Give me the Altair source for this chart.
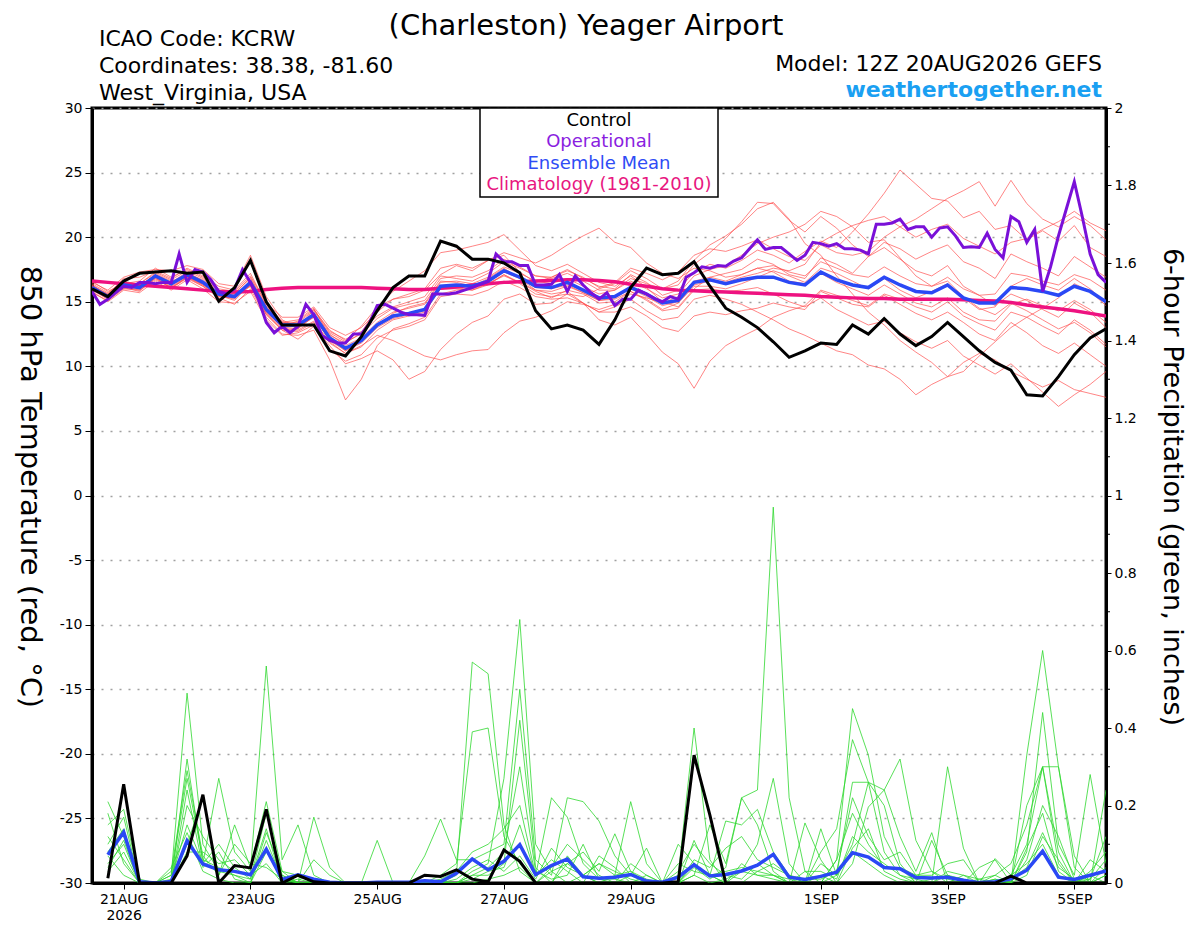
import altair as alt
import pandas as pd

# ---------------- data ----------------
HOURS6 = list(range(0, 385, 6))      # 12Z 20AUG2026 .. 12Z 05SEP2026, 6-hourly
HOURS3 = list(range(0, 385, 3))      # operational run, 3-hourly
PHOURS = HOURS6[1:]                  # 6-hour precipitation periods

TICK_HOURS = [12, 60, 108, 156, 204, 276, 324, 372]
TICK_LABELS = ["21AUG", "23AUG", "25AUG", "27AUG", "29AUG", "1SEP", "3SEP", "5SEP"]
FIRST_YEAR = "2026"
TEMP_TICKS = [-30, -25, -20, -15, -10, -5, 0, 5, 10, 15, 20, 25, 30]
PRECIP_TICKS = [0, 0.2, 0.4, 0.6, 0.8, 1, 1.2, 1.4, 1.6, 1.8, 2]
PRECIP_MINOR = [0.1, 0.3, 0.5, 0.7, 0.9, 1.1, 1.3, 1.5, 1.7, 1.9]

CONTROL_T = [16.0, 15.4, 16.6, 17.2, 17.3, 17.4, 17.2, 17.3, 15.05, 16.1,
             18.2, 15.0, 13.2, 13.2, 13.2, 11.2, 10.8, 12.3, 14.3, 16.1,
             17.0, 17.0, 19.7, 19.3, 18.3, 18.3, 18.0, 17.25, 14.3, 12.9,
             13.2, 12.8, 11.7, 13.6, 16.1, 17.6, 17.1, 17.2, 18.1, 16.2,
             14.5, 13.8, 13.0, 11.9, 10.7, 11.2, 11.8, 11.7, 13.2, 12.5,
             13.7, 12.5, 11.6, 12.3, 13.4, 12.3, 11.2, 10.3, 9.7, 7.8,
             7.7, 9.2, 10.9, 12.2, 12.9]

MEAN_T = [16.1, 15.4, 16.3, 16.1, 17.0, 16.4, 17.1, 16.5, 15.6, 15.4,
          16.5, 14.4, 13.2, 13.2, 14.0, 12.2, 11.4, 12.0, 13.2, 13.9,
          14.1, 14.4, 16.2, 16.3, 16.2, 16.6, 17.4, 16.9, 16.2, 16.1,
          16.5, 15.9, 15.3, 15.4, 16.1, 15.6, 14.9, 15.1, 16.5, 16.7,
          16.4, 16.7, 16.9, 16.9, 16.5, 16.3, 17.3, 16.7, 16.3, 16.1,
          16.9, 16.3, 15.8, 15.7, 16.3, 15.3, 14.9, 14.9, 16.1, 16.0,
          15.8, 15.5, 16.2, 15.8, 15.0]

OPER_T = [15.8, 14.8, 15.2, 15.7, 16.2, 16.1, 16.5, 16.5, 16.4, 16.5,
          16.5, 18.7, 16.5, 17.5, 17.3, 16.7, 15.8, 15.6, 16.0, 17.5,
          16.5, 15.2, 13.4, 12.6, 13.1, 12.6, 13.1, 14.8, 14.0, 12.4,
          12.0, 11.8, 11.8, 12.5, 12.5, 13.3, 14.7, 14.8, 14.5, 14.2,
          14.0, 14.0, 13.95, 15.6, 15.6, 15.6, 15.7, 15.9, 16.1, 16.35,
          16.6, 18.7, 18.1, 18.1, 17.8, 17.8, 16.3, 16.3, 16.35, 17.1,
          15.8, 17.0, 16.3, 15.7, 15.2, 15.7, 14.7, 15.2, 15.2, 15.9,
          15.6, 15.25, 15.0, 15.4, 15.2, 16.9, 17.25, 17.7, 17.6, 17.8,
          17.75, 18.15, 18.4, 19.1, 19.8, 19.05, 19.2, 19.2, 18.7, 18.2,
          18.6, 19.6, 19.5, 19.3, 19.5, 19.1, 19.1, 19.0, 18.7, 21.0,
          21.0, 21.1, 21.4, 20.6, 20.8, 20.8, 20.0, 20.7, 20.8, 20.1,
          19.2, 19.25, 19.2, 20.3, 19.05, 18.4, 21.6, 21.2, 19.6, 20.6,
          15.8, 17.7, 20.1, 22.2, 24.3, 21.6, 18.7, 17.1, 16.5]

CLIM_T = [16.6, 16.5, 16.4, 16.3, 16.2, 16.1, 16.0, 15.9, 15.8, 15.75,
          15.8, 15.95, 16.05, 16.1, 16.1, 16.1, 16.1, 16.1, 16.05, 16.0,
          15.95, 15.95, 16.05, 16.15, 16.3, 16.4, 16.5, 16.55, 16.6, 16.65,
          16.7, 16.7, 16.65, 16.55, 16.35, 16.2, 16.0, 15.9, 15.85, 15.8,
          15.75, 15.7, 15.65, 15.6, 15.55, 15.5, 15.4, 15.35, 15.3, 15.25,
          15.25, 15.2, 15.2, 15.2, 15.2, 15.15, 15.1, 15.05, 14.95, 14.75,
          14.6, 14.45, 14.3, 14.1, 13.9]

MEMBERS_T = [
    [16.3, 15.6, 16.8, 16.9, 17.4, 16.8, 17.6, 17.0, 16.2, 15.9,
     17.2, 14.8, 13.5, 12.9, 14.4, 12.8, 12.0, 13.1, 14.6, 15.2,
     15.4, 15.9, 17.1, 17.8, 17.4, 18.2, 18.6, 17.3, 16.5, 16.9,
     17.5, 16.8, 16.2, 16.0, 17.1, 16.5, 15.5, 15.9, 17.3, 17.9,
     17.6, 18.2, 19.0, 18.6, 18.0, 18.9, 19.7, 19.2, 20.4, 21.8,
     23.4, 25.2, 24.1, 23.0, 22.8, 21.5, 22.0, 20.6, 20.9, 19.8,
     20.5, 19.7, 20.9, 19.2, 18.5],
    [15.8, 15.0, 15.9, 15.7, 16.6, 15.9, 16.7, 16.0, 15.0, 14.9,
     15.8, 13.6, 12.4, 12.6, 13.2, 11.3, 10.4, 10.9, 12.2, 12.8,
     13.1, 13.6, 15.4, 15.6, 15.5, 15.9, 16.6, 16.1, 15.4, 15.2,
     15.3, 14.9, 14.2, 14.6, 15.2, 14.3, 13.6, 13.8, 15.2, 15.5,
     15.2, 14.8, 14.2, 13.6, 12.9, 12.4, 11.8, 11.2, 10.9, 10.1,
     9.8, 9.0, 7.8, 8.6, 9.2, 10.3, 11.0, 10.5, 9.6, 9.0,
     8.4, 8.9, 8.2, 7.9, 7.6],
    [16.5, 15.9, 16.9, 17.3, 17.5, 17.4, 17.8, 17.5, 16.4, 16.2,
     18.6, 15.4, 13.6, 13.0, 13.8, 12.4, 11.8, 12.6, 14.6, 15.8,
     16.6, 17.4, 18.8, 19.0, 19.3, 19.6, 20.2, 19.0, 17.8, 17.4,
     17.9, 17.2, 16.5, 16.2, 17.0, 16.1, 15.0, 14.6, 16.0, 16.9,
     17.2, 17.5, 18.3, 17.9, 17.1, 16.8, 18.4, 17.9, 17.2, 18.5,
     19.6, 19.1, 18.3, 18.9, 19.4, 18.1, 17.6, 16.8, 18.7, 18.1,
     17.6, 17.0, 18.5, 17.7, 16.9],
    [15.9, 15.2, 16.1, 15.8, 16.9, 16.0, 16.9, 16.2, 15.3, 14.8,
     16.0, 13.8, 12.5, 12.4, 12.8, 10.5, 7.4, 9.0, 11.6, 12.9,
     13.3, 13.8, 15.6, 15.9, 16.0, 16.4, 17.0, 16.5, 15.8, 15.3,
     15.9, 15.6, 14.9, 15.0, 15.8, 15.2, 14.4, 14.9, 16.2, 16.2,
     16.0, 16.4, 16.9, 17.4, 17.0, 16.5, 17.6, 17.2, 16.6, 16.0,
     16.8, 15.9, 15.3, 15.8, 16.4, 15.3, 14.4, 14.6, 16.2, 16.8,
     16.3, 15.9, 16.8, 16.0, 14.9],
    [16.2, 15.5, 16.0, 16.4, 17.2, 16.6, 17.0, 16.4, 15.6, 15.6,
     16.2, 14.0, 12.8, 12.1, 13.1, 11.6, 10.2, 10.6, 11.2, 10.5,
     9.0, 9.6, 11.3, 12.5, 13.4, 13.9, 15.2, 15.6, 14.8, 14.9,
     15.6, 15.4, 16.0, 16.4, 17.4, 16.8, 16.0, 16.3, 17.9, 18.8,
     19.9, 21.2, 22.7, 22.6, 21.3, 20.4, 21.6, 20.7, 19.4, 18.5,
     19.2, 18.3, 17.4, 17.0, 17.8, 16.2, 15.5, 14.7, 15.6, 15.1,
     14.4, 13.8, 14.9, 14.2, 13.0],
    [16.0, 15.3, 16.5, 16.2, 17.1, 16.5, 17.3, 16.6, 15.5, 15.2,
     16.7, 14.6, 13.4, 13.6, 14.5, 12.3, 11.2, 11.9, 13.1, 14.1,
     14.6, 14.9, 16.6, 16.5, 16.2, 16.8, 17.6, 16.8, 15.9, 15.6,
     15.8, 14.9, 13.6, 13.2, 13.8, 12.5, 11.1, 10.2, 8.3, 10.4,
     11.6, 12.3, 12.9, 13.8, 14.3, 14.7, 15.9, 15.5, 15.1, 14.7,
     15.6, 15.2, 14.6, 14.2, 15.0, 13.9, 13.3, 12.8, 14.2, 13.8,
     13.1, 12.5, 13.6, 12.8, 11.7],
    [16.4, 15.7, 16.6, 16.3, 17.0, 16.3, 17.0, 16.3, 15.5, 15.1,
     16.4, 14.2, 13.1, 13.5, 14.4, 12.7, 12.1, 12.7, 13.9, 14.6,
     15.0, 15.4, 17.0, 16.8, 16.6, 17.2, 18.1, 17.6, 17.0, 16.9,
     17.4, 16.9, 16.1, 16.5, 17.6, 17.2, 16.7, 17.3, 18.6, 19.1,
     18.9, 19.3, 19.8, 19.1, 18.5, 18.2, 19.4, 18.8, 18.6, 18.9,
     20.0, 20.8, 21.4, 22.2, 23.0, 23.6, 24.3, 22.4, 24.4, 22.6,
     21.4, 20.8, 21.6, 20.9, 19.8],
    [15.7, 15.1, 16.0, 15.9, 16.7, 16.1, 16.8, 16.2, 15.4, 15.3,
     16.2, 14.0, 12.8, 12.7, 13.4, 11.8, 11.0, 11.5, 12.8, 13.6,
     13.9, 14.2, 16.0, 16.1, 15.9, 16.3, 17.1, 16.5, 15.9, 15.8,
     16.2, 15.7, 15.1, 15.2, 15.8, 15.1, 14.3, 14.5, 15.9, 16.0,
     15.8, 15.9, 16.1, 15.6, 15.0, 14.6, 15.3, 14.4, 13.8, 13.2,
     13.5, 12.6, 11.9, 11.4, 12.0, 10.8, 10.1, 9.4, 10.2, 9.1,
     8.0, 6.9, 7.8, 8.6, 9.6],
    [16.6, 15.8, 16.4, 16.6, 17.6, 16.9, 17.5, 16.9, 16.0, 15.8,
     17.0, 14.9, 13.8, 13.8, 14.6, 13.0, 12.4, 13.0, 14.2, 15.2,
     15.6, 16.0, 17.6, 17.9, 17.6, 18.2, 18.8, 18.4, 18.0, 18.6,
     19.4, 20.1, 20.7, 19.6, 19.2, 18.0, 17.2, 16.8, 17.6, 17.4,
     16.9, 17.1, 17.6, 17.3, 16.6, 16.4, 17.2, 16.5, 16.0, 15.5,
     16.3, 15.6, 14.9, 14.6, 15.3, 14.2, 13.6, 13.5, 14.8, 15.2,
     14.7, 14.3, 15.1, 14.4, 13.4],
    [15.9, 15.4, 16.2, 16.0, 16.8, 16.2, 16.9, 16.4, 15.7, 15.5,
     16.3, 14.1, 12.9, 12.8, 13.5, 11.9, 11.0, 11.6, 12.4, 12.0,
     11.4, 10.8, 10.5, 10.9, 11.2, 11.3, 12.6, 13.5, 13.8, 14.3,
     15.0, 14.8, 14.4, 14.8, 15.6, 15.3, 14.9, 15.4, 16.6, 16.9,
     16.6, 17.1, 17.6, 17.8, 17.3, 17.0, 18.1, 17.6, 17.1, 16.9,
     17.7, 17.0, 16.4, 16.2, 16.9, 16.0, 15.5, 15.6, 17.2, 17.0,
     16.6, 16.3, 17.1, 16.7, 15.9],
    [16.2, 15.6, 16.4, 16.2, 17.1, 16.5, 17.2, 16.7, 15.8, 15.7,
     16.8, 14.6, 13.3, 13.2, 14.1, 12.5, 11.6, 12.2, 13.4, 14.2,
     14.5, 14.8, 16.5, 16.6, 16.4, 16.9, 17.7, 17.2, 16.6, 16.4,
     16.8, 16.2, 15.6, 15.9, 16.8, 16.4, 16.0, 16.6, 18.2, 19.4,
     20.1, 21.0, 22.2, 22.7, 21.4, 19.5, 18.6, 17.0, 15.6, 14.2,
     13.2, 12.0, 11.1, 10.3, 9.2, 9.6, 10.8, 11.9, 13.0, 13.8,
     14.5, 15.3, 16.4, 15.8, 14.7],
    [16.1, 15.3, 16.2, 15.9, 16.8, 16.1, 16.9, 16.3, 15.4, 15.3,
     16.3, 14.2, 13.0, 13.1, 13.8, 12.0, 11.2, 11.8, 13.0, 13.7,
     14.0, 14.3, 16.2, 16.3, 16.1, 16.5, 17.3, 16.8, 16.1, 16.0,
     16.3, 15.7, 15.1, 15.3, 16.0, 15.4, 14.7, 15.0, 16.3, 16.6,
     16.5, 16.9, 17.2, 17.6, 17.4, 17.9, 19.6, 20.3, 20.9, 21.3,
     21.6, 20.8, 20.0, 20.6, 21.0, 19.9, 19.3, 18.7, 19.6, 19.9,
     20.6, 21.2, 22.0, 21.1, 20.5],
    [16.0, 15.2, 16.3, 16.0, 16.9, 16.3, 17.0, 16.4, 15.6, 15.4,
     16.5, 14.3, 13.0, 12.9, 13.9, 12.0, 11.3, 11.9, 13.2, 13.8,
     14.1, 14.4, 16.0, 16.0, 15.9, 16.4, 17.1, 16.4, 15.6, 15.4,
     15.6, 14.9, 14.2, 14.2, 14.6, 13.9, 13.0, 12.7, 13.9, 14.2,
     14.0, 14.3, 14.5, 14.9, 14.6, 14.4, 15.8, 15.3, 14.8, 14.6,
     15.5, 14.8, 14.1, 13.6, 14.2, 13.4, 12.5, 12.0, 13.4, 12.6,
     11.6, 11.0, 11.8, 10.9, 10.0],
    [16.3, 15.5, 16.5, 16.4, 17.3, 16.7, 17.4, 16.8, 15.9, 15.6,
     16.9, 14.7, 13.4, 13.4, 14.3, 12.6, 11.9, 12.5, 13.7, 14.5,
     14.8, 15.1, 16.8, 17.0, 16.9, 17.4, 18.3, 17.7, 17.0, 16.8,
     17.2, 16.6, 15.9, 15.9, 16.6, 16.0, 15.3, 15.6, 17.0, 17.5,
     17.8, 18.6, 19.5, 20.0, 20.4, 21.0, 22.0, 21.6, 20.8, 19.6,
     19.8, 18.4, 17.0, 16.2, 16.6, 15.4, 14.5, 14.0, 14.9, 14.3,
     13.6, 12.9, 13.4, 12.6, 11.5],
]

CONTROL_P = [0.012, 0.255, 0, 0, 0, 0.07, 0.228, 0,
             0.045, 0.039, 0.19, 0, 0.02, 0.003, 0, 0,
             0, 0, 0, 0, 0.02, 0.017, 0.034, 0.01,
             0.003, 0.085, 0.056, 0, 0, 0, 0, 0,
             0, 0, 0, 0, 0.003, 0.33, 0.175, 0,
             0, 0, 0, 0, 0, 0, 0, 0,
             0, 0, 0, 0, 0, 0, 0, 0,
             0, 0.018, 0, 0, 0, 0, 0, 0]

MEAN_P = [0.073, 0.131, 0.003, 0, 0.004, 0.109, 0.049, 0.034,
          0.030, 0.0215, 0.087, 0.009, 0.021, 0.010, 0.002, 0,
          0, 0.002, 0.002, 0.002, 0.006, 0.003, 0.025, 0.062,
          0.034, 0.056, 0.099, 0.0215, 0.045, 0.062, 0.016, 0.012,
          0.015, 0.022, 0.005, 0.002, 0.015, 0.047, 0.018, 0.022,
          0.031, 0.046, 0.074, 0.015, 0.009, 0.017, 0.028, 0.078,
          0.067, 0.040, 0.037, 0.014, 0.013, 0.015, 0.007, 0.001,
          0.003, 0.011, 0.033, 0.082, 0.015, 0.009, 0.020, 0.031]

MEMBERS_P = [
    [.21, .12, 0, 0, .02, .49, .10, .03, .02, 0, .08, .02, 0, 0, 0, 0,
     0, 0, 0, 0, 0, .02, .05, .39, .40, .12, .05, 0, .04, .10, .06, .02,
     0, .02, .09, 0, 0, .05, .02, 0, .03, .10, .27, .05, 0, 0, .06, .45,
     .33, .12, .04, 0, 0, .03, .02, 0, 0, .02, .10, .30, .05, 0, 0, .04],
    [.15, .19, .01, 0, 0, .32, .05, .27, .08, .03, .56, .06, .15, .02, 0, 0,
     0, 0, 0, 0, 0, 0, .02, .57, .54, .15, .03, 0, 0, .07, .02, 0,
     .02, .21, .05, 0, 0, .02, .15, .05, .22, .24, .97, .22, .03, 0, .02, .10,
     .26, .20, .05, 0, 0, .02, 0, 0, .01, 0, .33, .60, .30, .07, 0, .02],
    [.08, .14, 0, 0, .03, .29, .07, .02, .15, .04, .21, .03, 0, .17, .04, 0,
     0, .11, 0, 0, 0, 0, 0, .03, .05, .27, .68, .10, .03, 0, .02, 0,
     0, 0, 0, 0, .02, .40, .06, 0, 0, .03, .05, .02, 0, .08, .14, .37,
     .26, .08, .02, 0, .11, .02, 0, .01, .02, 0, .08, .44, .10, .02, .28, .05],
    [.05, .10, 0, 0, 0, .20, .12, .06, .03, .02, .09, 0, .02, 0, 0, 0,
     0, 0, 0, 0, .07, .165, .06, .06, .08, .10, .50, .06, .02, .22, .21, .16,
     .07, .02, 0, 0, 0, .11, .02, .16, .15, .19, .08, .02, 0, .05, .02, .26,
     .26, .24, .12, .03, .13, 0, 0, .04, .06, 0, .20, .30, .30, .04, 0, .24],
    [.12, .06, 0, 0, .01, .15, .05, .10, .04, .01, .18, .02, 0, 0, 0, 0,
     0, 0, 0, 0, 0, 0, 0, .02, .02, .05, .42, .04, 0, .05, .08, .03,
     .127, .03, 0, 0, .10, .05, .02, 0, .05, .02, .02, 0, .155, .06, 0, .05,
     .196, .24, .32, .11, .03, 0, 0, 0, .02, .05, .15, .30, .08, 0, .03, .08],
    [.03, .08, 0, 0, 0, .10, .22, .02, .10, .05, .04, .01, 0, 0, 0, 0,
     0, 0, 0, 0, 0, .01, .03, .08, .10, .14, .20, .02, .06, .03, 0, .07,
     .04, 0, .02, 0, 0, .04, .01, .04, .22, .15, .03, 0, 0, .14, .02, .08,
     .05, .02, 0, 0, 0, .30, .09, 0, 0, 0, .02, .12, .06, 0, .02, 0],
    [.18, .05, 0, 0, 0, .24, .04, .08, .01, 0, .13, .03, .02, 0, 0, 0,
     0, 0, 0, 0, 0, 0, 0, .01, .03, .04, .15, .02, .22, .17, .05, .01,
     0, .05, .02, 0, .03, .10, .05, .02, .01, .05, .02, 0, 0, 0, .06, .18,
     .10, .04, .04, .02, .02, .05, .06, 0, .063, .02, .05, .10, .02, 0, .06, .03],
    [.10, .17, 0, 0, .04, .13, .03, .01, 0, 0, .11, .01, 0, .06, .02, 0,
     0, 0, 0, 0, 0, 0, .01, .04, .06, .03, .07, .01, .09, .04, .02, .05,
     .03, .01, 0, 0, 0, .02, 0, .01, .03, .02, .01, 0, .03, .03, .01, .12,
     .08, .05, .02, .01, 0, 0, .02, .01, 0, .01, .04, .13, .04, .01, .01, .12],
    [.07, .02, 0, 0, 0, .08, .08, .05, .06, .02, .05, 0, 0, 0, 0, 0,
     0, 0, 0, 0, 0, 0, 0, .02, .04, .08, .30, .03, .01, .02, .10, .01,
     .01, 0, 0, 0, .05, .03, .02, .03, .04, .03, .02, .01, 0, .02, 0, .09,
     .14, .03, .01, 0, .01, .02, .01, 0, .01, 0, .06, .20, .12, .01, 0, .02],
    [.04, .11, 0, 0, .02, .27, .06, .04, .02, .01, .14, 0, .01, 0, 0, 0,
     0, 0, 0, 0, 0, 0, 0, 0, .01, .02, .04, 0, .03, .05, .02, .05,
     .02, .03, .01, 0, 0, .06, .04, .09, .12, .06, .04, .02, .01, .01, .03, .22,
     .12, .06, .08, .02, .03, .01, 0, 0, 0, 0, .09, .18, .03, 0, .01, .06],
]

TITLE = "(Charleston) Yeager Airport"
INFO_LEFT = ["ICAO Code: KCRW", "Coordinates: 38.38, -81.60", "West_Virginia, USA"]
INFO_RIGHT = ["Model: 12Z 20AUG2026 GEFS", "weathertogether.net"]
LEGEND = [("Control", "#000000"), ("Operational", "#8a1ee0"),
          ("Ensemble Mean", "#2f4cf5"), ("Climatology (1981-2010)", "#e8177f")]
Y_TITLE_L = "850 hPa Temperature (red, \u00b0C)"
Y_TITLE_R = "6-hour Precipitation (green, inches)"

# ---------------- frames ----------------
rows = []
for m, vals in enumerate(MEMBERS_T):
    for h, v in zip(HOURS6, vals):
        rows.append({"h": h, "v": v, "m": m})
df_mt = pd.DataFrame(rows)
rows = []
for m, vals in enumerate(MEMBERS_P):
    for h, v in zip(PHOURS, vals):
        rows.append({"h": h, "v": v, "m": m})
df_mp = pd.DataFrame(rows)
df_ct = pd.DataFrame({"h": HOURS6, "v": CONTROL_T})
df_mean = pd.DataFrame({"h": HOURS6, "v": MEAN_T})
df_clim = pd.DataFrame({"h": HOURS6, "v": CLIM_T})
df_op = pd.DataFrame({"h": HOURS3, "v": OPER_T})
df_cp = pd.DataFrame({"h": PHOURS, "v": CONTROL_P})
df_meanp = pd.DataFrame({"h": PHOURS, "v": MEAN_P})
df_minor = pd.DataFrame({"v": PRECIP_MINOR})

FONT = "DejaVu Sans"

label_expr = "''"
for hh, lab in reversed(list(zip(TICK_HOURS, TICK_LABELS))):
    if hh == TICK_HOURS[0]:
        lab_js = "['%s','%s']" % (lab, FIRST_YEAR)
    else:
        lab_js = "'%s'" % lab
    label_expr = "datum.value == %d ? %s : (%s)" % (hh, lab_js, label_expr)

X = alt.X("h:Q", scale=alt.Scale(domain=[0, 384], nice=False, zero=False),
          axis=alt.Axis(values=TICK_HOURS, labelExpr=label_expr, title=None,
                        grid=False, tickSize=6, tickColor="black", tickWidth=1,
                        labelPadding=3, labelFontSize=14, labelFont=FONT,
                        labelColor="black", labelFlush=False, labelOverlap=False,
                        labelLineHeight=16, domainColor="black", domainWidth=3))

YT = alt.Y("v:Q", scale=alt.Scale(domain=[-30, 30], nice=False, zero=False),
           axis=alt.Axis(orient="left", values=TEMP_TICKS, title=None, grid=True,
                         labelExpr="'' + datum.value",
                         gridDash=[2, 7], gridColor="#a0a0a0", gridWidth=1.3,
                         tickSize=7, tickColor="black", tickWidth=1,
                         labelPadding=3, labelFontSize=14, labelFont=FONT,
                         labelColor="black", labelFlush=False, labelOverlap=False,
                         domainColor="black", domainWidth=3))

YP = alt.Y("v:Q", scale=alt.Scale(domain=[0, 2], nice=False, zero=False),
           axis=alt.Axis(orient="right", values=PRECIP_TICKS, format="~g", title=None,
                         grid=False, tickSize=5, tickColor="black", tickWidth=1,
                         labelPadding=3, labelFontSize=14, labelFont=FONT,
                         labelColor="black", labelFlush=False, labelOverlap=False,
                         domainColor="black", domainWidth=3))

precip = alt.layer(
    alt.Chart(df_mp).mark_line(color="#2ed82e", strokeWidth=0.8, clip=True)
    .encode(x=X, y=YP, detail="m:N"),
    alt.Chart(df_meanp).mark_line(color="#2a48f5", strokeWidth=3.5, clip=True)
    .encode(x=X, y=YP),
    alt.Chart(df_cp).mark_line(color="black", strokeWidth=3, clip=True)
    .encode(x=X, y=YP),
    alt.Chart(df_minor).mark_rule(color="black", strokeWidth=1)
    .encode(y=YP, x=alt.value(1015), x2=alt.value(1018)),
)

temp = alt.layer(
    alt.Chart(df_mt).mark_line(color="#ff4a4a", strokeWidth=0.8, opacity=0.85, clip=True)
    .encode(x=X, y=YT, detail="m:N"),
    alt.Chart(df_clim).mark_line(color="#ee1280", strokeWidth=3.5, clip=True)
    .encode(x=X, y=YT),
    alt.Chart(df_mean).mark_line(color="#2a48f5", strokeWidth=3.5, clip=True)
    .encode(x=X, y=YT),
    alt.Chart(df_op).mark_line(color="#7a10d8", strokeWidth=3, clip=True)
    .encode(x=X, y=YT),
    alt.Chart(df_ct).mark_line(color="black", strokeWidth=3, clip=True)
    .encode(x=X, y=YT),
)

one = pd.DataFrame({"k": [0]})


def txt(s, x, y, size, color="black", align="left", baseline="alphabetic",
        angle=0, bold=False):
    kw = dict(align=align, baseline=baseline, fontSize=size, font=FONT, color=color)
    if angle:
        kw["angle"] = angle
    if bold:
        kw["fontWeight"] = "bold"
    return alt.Chart(one).mark_text(**kw).encode(
        x=alt.value(x), y=alt.value(y), text=alt.value(s))


legend_box = alt.Chart(one).mark_rect(fill="white", stroke="black", strokeWidth=1.5).encode(
    x=alt.value(388), x2=alt.value(626), y=alt.value(0), y2=alt.value(89))

overlay = [legend_box]
for k, (s, c) in enumerate(LEGEND):
    overlay.append(txt(s, 507, 13 + 21.3 * k, 18, color=c, align="center", baseline="middle"))
overlay.append(txt(TITLE, 494, -73, 29, align="center"))
for k, s in enumerate(INFO_LEFT):
    overlay.append(txt(s, 7, -62 + 27 * k, 22))
overlay.append(txt(INFO_RIGHT[0], 1010, -37, 22, align="right"))
overlay.append(txt(INFO_RIGHT[1], 1010, -11, 22, color="#1aa0f2", align="right", bold=True))
overlay.append(txt(Y_TITLE_L, -62, 379, 29, align="center", baseline="middle", angle=90))
overlay.append(txt(Y_TITLE_R, 1080, 379, 27, align="center", baseline="middle", angle=90))

chart = alt.layer(precip, temp, *overlay).resolve_scale(y="independent").properties(
    width=1014, height=775,
    autosize=alt.AutoSizeParams(type="none"),
    padding={"left": 84, "top": 100, "right": 86, "bottom": 40},
).configure(font=FONT).configure_view(stroke="black", strokeWidth=3)

chart.save("out.html", embed_options={"renderer": "svg", "actions": False})
